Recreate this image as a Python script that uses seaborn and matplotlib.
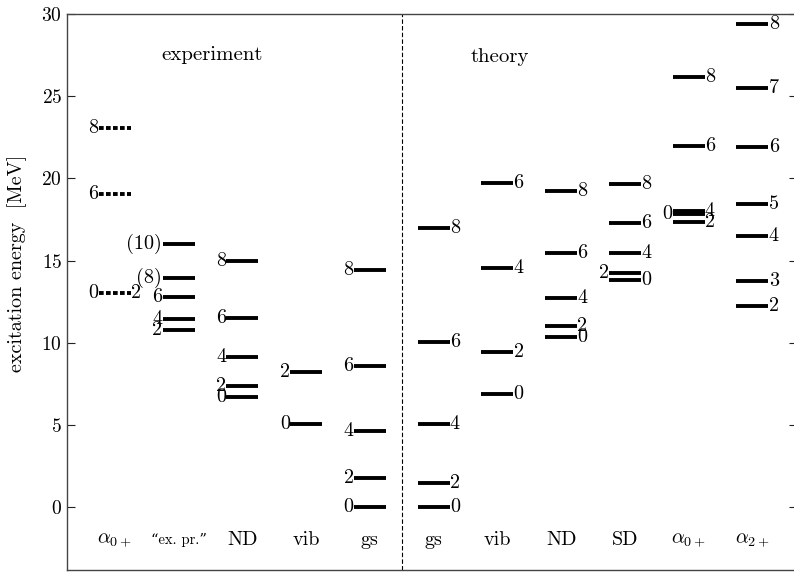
import matplotlib
matplotlib.use("Agg")
import matplotlib.pyplot as plt
import seaborn as sns
import pandas as pd

# ---------------- data ----------------
columns = [r"$\alpha_{0+}$", "\u201cex. pr.\u201d", "ND", "vib", "gs",
           "gs", "vib", "ND", "SD", r"$\alpha_{0+}$", r"$\alpha_{2+}$"]

exp_a0_E = [23.05, 19.05, 13.0]
exp_a0_J = ["8", "6", "0"]
exp_ep_E = [16.0, 13.94, 12.78, 11.44, 10.77]
exp_ep_J = ["(10)", "(8)", "6", "4", "2"]
exp_nd_E = [14.97, 11.5, 9.13, 7.36, 6.7]
exp_nd_J = ["8", "6", "4", "2", "0"]
exp_vib_E = [8.2, 5.05]
exp_vib_J = ["2", "0"]
exp_gs_E = [14.42, 8.58, 4.63, 1.77, 0.0]
exp_gs_J = ["8", "6", "4", "2", "0"]

th_gs_E = [16.98, 10.04, 5.05, 1.46, 0.0]
th_gs_J = ["8", "6", "4", "2", "0"]
th_vib_E = [19.72, 14.55, 9.43, 6.88]
th_vib_J = ["6", "4", "2", "0"]
th_nd_E = [19.23, 15.46, 12.72, 11.02, 10.35]
th_nd_J = ["8", "6", "4", "2", "0"]
th_sd_E = [19.66, 17.28, 15.46, 14.24, 13.82]
th_sd_J = ["8", "6", "4", "2", "0"]
th_a0_E = [26.17, 21.97, 18.02, 17.85, 17.35]
th_a0_J = ["8", "6", "4", "0", "2"]
th_a2_E = [29.4, 25.5, 21.9, 18.44, 16.49, 13.76, 12.23]
th_a2_J = ["8", "7", "6", "5", "4", "3", "2"]

# label side per level: 'l' = left of the bar, 'r' = right of the bar
exp_a0_side = ["l", "l", "l"]
exp_ep_side = ["l"] * 5
exp_nd_side = ["l"] * 5
exp_vib_side = ["l"] * 2
exp_gs_side = ["l"] * 5
th_gs_side = ["r"] * 5
th_vib_side = ["r"] * 4
th_nd_side = ["r"] * 5
th_sd_side = ["r", "r", "r", "l", "r"]
th_a0_side = ["r", "r", "r", "l", "r"]
th_a2_side = ["r"] * 7

groups = [
    (exp_a0_E, exp_a0_J, exp_a0_side, "dashed"),
    (exp_ep_E, exp_ep_J, exp_ep_side, "solid"),
    (exp_nd_E, exp_nd_J, exp_nd_side, "solid"),
    (exp_vib_E, exp_vib_J, exp_vib_side, "solid"),
    (exp_gs_E, exp_gs_J, exp_gs_side, "solid"),
    (th_gs_E, th_gs_J, th_gs_side, "solid"),
    (th_vib_E, th_vib_J, th_vib_side, "solid"),
    (th_nd_E, th_nd_J, th_nd_side, "solid"),
    (th_sd_E, th_sd_J, th_sd_side, "solid"),
    (th_a0_E, th_a0_J, th_a0_side, "solid"),
    (th_a2_E, th_a2_J, th_a2_side, "solid"),
]

rows = []
for ci, (E, J, S, st) in enumerate(groups):
    for e, j, s in zip(E, J, S):
        rows.append(dict(col=ci, E=e, J=j, side=s, style=st))
df = pd.DataFrame(rows)

# ---------------- style ----------------
sns.set_theme(style="ticks")
plt.rcParams["font.family"] = ["cmr10", "DejaVu Serif"]
plt.rcParams["mathtext.fontset"] = "cm"
plt.rcParams["axes.formatter.use_mathtext"] = True
plt.rcParams["axes.unicode_minus"] = False

fig = plt.figure(figsize=(7.94, 5.72), dpi=100)
ax = fig.add_axes([67 / 794, 2 / 572, (797 - 67) / 794, (558 - 2) / 572])

hw = 0.25
ink = "black"
fs_lab = 14.5
for _, r in df.iterrows():
    ls = (0, (1.2, 0.6)) if r["style"] == "dashed" else "solid"
    ax.hlines(r["E"], r["col"] - hw, r["col"] + hw, color=ink, lw=2.8,
              linestyles=ls, capstyle="butt")
    if r["side"] == "l":
        ax.text(r["col"] - hw - 0.005, r["E"], r["J"], ha="right", va="center",
                fontsize=fs_lab, color=ink)
    else:
        ax.text(r["col"] + hw + 0.005, r["E"], r["J"], ha="left", va="center",
                fontsize=fs_lab, color=ink)

# the experimental alpha 0+ band at 13 MeV also carries a 2
ax.text(0 + hw + 0.005, exp_a0_E[2], "2", ha="left", va="center", fontsize=fs_lab, color=ink)

# column labels
for ci, name in enumerate(columns):
    fs = 10.5 if ci == 1 else 14.5
    ax.text(ci, -2.0, name, ha="center", va="center", fontsize=fs, color=ink)

ax.text(1.52, 27.5, "experiment", ha="center", va="center", fontsize=15, color=ink)
ax.text(6.04, 27.4, "theory", ha="center", va="center", fontsize=15, color=ink)

ax.axvline(4.5, color=ink, lw=0.8, ls=(0, (4, 2)))

ax.set_xlim(-0.75, 10.7)
ax.set_ylim(-3.83, 30)
ax.set_yticks([0, 5, 10, 15, 20, 25, 30])
ax.set_xticks([])
ax.tick_params(axis="y", direction="in", length=6, width=0.8, labelsize=14,
               right=True, colors="#222222", labelcolor=ink)
ax.set_ylabel("excitation energy  [MeV]", fontsize=14.5, color=ink)
ax.yaxis.set_label_coords(-(67 - 27) / 730, (572 - 263 - 2) / 556)
for sp in ax.spines.values():
    sp.set_color("#444444")
    sp.set_linewidth(1.0)

fig.savefig("out.png", dpi=100)
